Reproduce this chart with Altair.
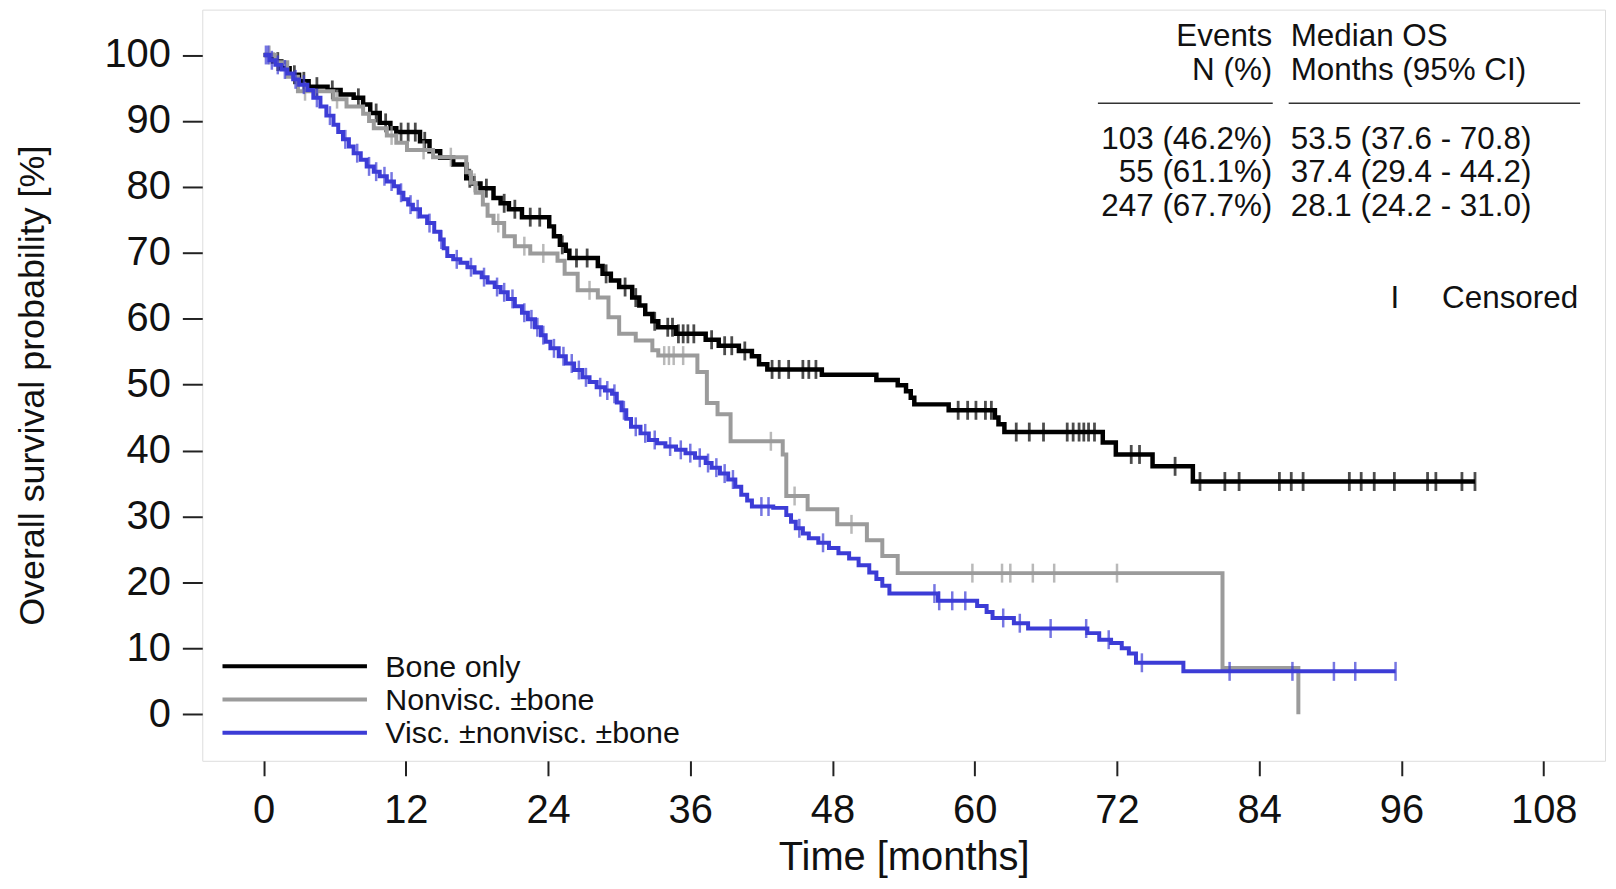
import altair as alt
import pandas as pd
import numpy as np

# ---------------- data ----------------
groups = ["Bone only", "Nonvisc. \u00b1bone", "Visc. \u00b1nonvisc. \u00b1bone"]
colors = ["#000000", "#9b9b9b", "#3c3cd6"]

bone_t = [0, 0.8, 1.5, 2.2, 3.0, 3.8, 5.4, 6.5, 7.6, 8.4, 9.0, 9.8, 10.7, 11.2, 13.2,
          14.0, 14.9, 16.0, 17.1, 17.7, 18.3, 19.4, 20.0, 20.7, 21.8, 24.1, 24.5, 25.0,
          25.5, 25.8, 28.2, 28.6, 29.3, 30.0, 31.1, 31.7, 32.2, 32.8, 33.3, 34.8, 37.3,
          38.4, 40.1, 41.2, 41.8, 42.5, 47.1, 51.7, 53.5, 54.2, 54.6, 54.9, 57.8, 61.7,
          62.0, 62.5, 70.8, 71.9, 75.0, 78.4, 102.2]
bone_s = [100, 99, 98, 97, 96, 95.2, 94.7, 94, 93.5, 92.5, 91.2, 89.7, 88.9, 88.3, 86.9,
          85.4, 84.4, 83.4, 81.3, 80.5, 79.8, 78.3, 77.5, 76.6, 75.4, 74.0, 72.5, 71.2,
          70.3, 69.2, 68.0, 66.8, 65.8, 64.8, 63.2, 62.0, 60.7, 59.6, 58.7, 57.7, 56.8,
          55.9, 55.1, 54.3, 53.1, 52.3, 51.5, 50.7, 49.9, 49.0, 48.0, 47.0, 46.1, 45.0,
          44.0, 42.8, 41.2, 39.4, 37.6, 35.3, 35.3]
bone_c = [1.2, 2.6, 3.4, 4.5, 5.8, 8.0, 9.5, 10.3, 11.6, 12.2, 12.8, 13.6, 17.4, 18.8,
          20.3, 21.2, 22.5, 23.3, 25.2, 26.4, 27.3, 28.9, 30.5, 31.4, 33.0, 34.1, 34.5,
          35.0, 35.4, 35.8, 36.3, 37.8, 38.9, 39.5, 40.6, 42.9, 43.5, 44.3, 45.5, 46.0,
          46.6, 58.6, 59.4, 60.1, 60.9, 61.4, 63.5, 64.6, 65.8, 67.8, 68.3, 68.8, 69.2,
          69.6, 70.1, 73.2, 73.9, 76.9, 79.0, 81.1, 82.3, 85.7, 86.7, 87.7, 91.6, 92.6,
          93.7, 95.4, 98.2, 98.9, 101.1, 102.2]

gray_t = [0, 1.0, 2.0, 2.9, 5.9, 7.0, 8.4, 8.9, 9.3, 10.4, 11.2, 12.1, 14.3, 17.1, 17.5,
          17.9, 18.5, 18.9, 19.4, 20.3, 21.2, 22.5, 24.8, 25.4, 26.5, 28.2, 29.1, 30.0,
          31.4, 32.8, 33.3, 36.6, 37.4, 38.3, 39.4, 43.8, 44.1, 45.9, 48.4, 50.9, 52.2,
          53.5, 80.9, 87.3]
gray_s = [100, 98.9, 96.7, 94.5, 93.3, 92.2, 91.1, 90.0, 88.9, 87.8, 86.7, 85.6, 84.5,
          82.2, 80.6, 79.1, 77.3, 75.6, 74.5, 72.5, 71.0, 69.9, 68.8, 66.8, 64.3, 63.2,
          60.2, 57.7, 56.7, 55.2, 54.4, 51.9, 47.2, 45.5, 41.4, 39.4, 33.1, 31.1, 28.8,
          26.4, 24.0, 21.4, 7.0, 0]
gray_c = [0.5, 3.5, 6.2, 10.8, 13.5, 15.8, 17.8, 19.8, 22.0, 23.6, 27.5, 33.8, 34.2,
          34.6, 35.4, 42.8, 44.8, 49.6, 59.8, 62.3, 63.0, 64.9, 66.7, 72.0]

visc_t = [0, 0.5, 1.0, 1.5, 2.0, 2.5, 3.0, 3.7, 4.2, 4.8, 5.3, 5.9, 6.3, 6.7, 7.2, 7.6,
          8.2, 8.7, 9.3, 9.8, 10.4, 11.0, 11.4, 11.8, 12.2, 12.6, 13.2, 13.8, 14.4, 14.9,
          15.2, 15.5, 16.0, 16.6, 17.2, 17.8, 18.4, 18.9, 19.5, 20.0, 20.6, 21.2, 21.8,
          22.3, 22.9, 23.4, 23.8, 24.2, 24.9, 25.5, 26.2, 26.9, 27.5, 28.1, 28.8, 29.4,
          29.8, 30.2, 30.6, 31.0, 31.8, 32.5, 33.2, 33.9, 34.8, 35.6, 36.4, 37.3, 37.8,
          38.5, 39.2, 39.8, 40.3, 40.8, 41.2, 43.0, 44.1, 44.5, 44.9, 45.5, 46.0, 46.8,
          47.7, 48.5, 49.4, 50.2, 51.1, 51.7, 52.2, 52.8, 56.9, 60.2, 61.0, 61.5, 63.3,
          64.5, 69.5, 70.5, 71.5, 72.4, 73.0, 73.6, 77.6, 95.5]
visc_s = [100, 99.2, 98.5, 97.8, 97.2, 96.3, 95.5, 94.7, 93.5, 92.2, 90.8, 89.4, 88.3,
          87.2, 86.1, 85.1, 84.1, 83.1, 82.3, 81.6, 80.8, 80.1, 79.1, 78.1, 77.3, 76.6,
          75.5, 74.5, 73.2, 72.0, 70.7, 69.5, 69.0, 68.5, 67.8, 67.0, 66.3, 65.5, 64.8,
          64.0, 63.0, 61.9, 60.9, 59.9, 58.7, 57.5, 56.5, 55.5, 54.3, 53.2, 52.2, 51.1,
          50.4, 49.6, 49.1, 48.6, 47.3, 46.1, 44.8, 43.6, 42.6, 41.6, 41.1, 40.6, 40.1,
          39.6, 38.9, 38.1, 37.4, 36.5, 35.6, 34.5, 33.3, 32.4, 31.5, 31.3, 30.2, 29.2,
          28.2, 27.4, 26.7, 26.0, 25.2, 24.4, 23.6, 22.6, 21.5, 20.5, 19.5, 18.3, 17.2,
          16.4, 15.5, 14.6, 13.8, 13.0, 12.3, 11.3, 10.8, 10.0, 9.2, 7.8, 6.5, 6.5]
visc_c = [0.2, 0.4, 0.7, 1.2, 1.8, 2.7, 3.4, 4.5, 5.6, 6.9, 7.9, 8.9, 9.5, 10.2, 10.8,
          11.6, 12.4, 13.0, 14.0, 15.0, 16.3, 17.5, 18.6, 19.7, 20.3, 21.0, 22.0, 22.6,
          23.1, 23.6, 24.5, 25.3, 26.0, 26.6, 27.2, 28.4, 29.0, 29.6, 30.4, 31.4, 32.2,
          33.0, 34.3, 35.2, 36.0, 36.8, 37.5, 38.2, 38.9, 39.6, 42.0, 42.6, 45.2, 47.2,
          56.6, 57.0, 58.1, 59.2, 62.4, 63.8, 66.4, 69.4, 71.3, 74.1, 81.5, 86.8, 90.3,
          92.1, 95.5]

header_events = ["Events", "N (%)"]
header_median = ["Median OS", "Months (95% CI)"]
events_txt = ["103 (46.2%)", "55 (61.1%)", "247 (67.7%)"]
median_txt = ["53.5 (37.6 - 70.8)", "37.4 (29.4 - 44.2)", "28.1 (24.2 - 31.0)"]
censor_label = "Censored"
x_ticks = list(range(0, 109, 12))
y_ticks = list(range(0, 101, 10))

# ---------------- helpers ----------------
FONT = "Liberation Sans, Arial, Helvetica, sans-serif"
TXT = "#111111"


def level_at(ts, ss, cs):
    ts = np.asarray(ts)
    return [ss[int(np.searchsorted(ts, c, side="right")) - 1] for c in cs]


x_enc = alt.X(
    "t:Q",
    scale=alt.Scale(domain=[-5.17, 113.17], nice=False, zero=False),
    axis=alt.Axis(values=x_ticks, tickSize=15, tickWidth=2, tickColor="#222",
                  labelFontSize=40, labelPadding=15, labelColor=TXT, labelFont=FONT,
                  domain=False, grid=False, title="Time [months]",
                  titleFont=FONT, titleFontSize=40, titleFontWeight="normal",
                  titleColor=TXT, titleX=704, titleY=109,
                  titleBaseline="alphabetic", titleAlign="center"),
)
y_enc = alt.Y(
    "s:Q",
    scale=alt.Scale(domain=[-7.07, 106.88], nice=False, zero=False),
    axis=alt.Axis(values=y_ticks, tickSize=20, tickWidth=2, tickColor="#222",
                  labelFontSize=40, labelPadding=12, labelColor=TXT, labelFont=FONT,
                  domain=False, grid=False, title="Overall survival probability [%]",
                  titleFont=FONT, titleFontSize=36, titleFontWeight="normal",
                  titleColor=TXT, titleX=-170.5, titleY=377, titleAngle=270,
                  titleBaseline="middle", titleAlign="center"),
)

series = [(bone_t, bone_s, bone_c, 4.5, 2.8),
          (gray_t, gray_s, gray_c, 4.0, 2.5),
          (visc_t, visc_s, visc_c, 4.0, 2.5)]

layers = []
for i, (ts, ss, cs, lw, tw) in enumerate(series):
    df_line = pd.DataFrame({"t": ts, "s": ss, "group": groups[i]})
    df_cens = pd.DataFrame({"t": cs, "s": level_at(ts, ss, cs), "group": groups[i]})
    layers.append(
        alt.Chart(df_line).mark_line(interpolate="step-after", strokeWidth=lw,
                                     color=colors[i], strokeCap="butt")
        .encode(x=x_enc, y=y_enc, order=alt.Order("t:Q"))
    )
    layers.append(
        alt.Chart(df_cens).mark_tick(orient="vertical", size=19, thickness=tw,
                                     color=colors[i])
        .encode(x=x_enc, y=y_enc)
    )

one = pd.DataFrame({"k": [0]})


def text_at(txt, x, y, align, size=31.5):
    return alt.Chart(one).mark_text(align=align, baseline="middle", font=FONT,
                                    fontSize=size, color=TXT).encode(
        x=alt.value(x), y=alt.value(y), text=alt.value(txt))


def rule_at(x1, x2, y, color, width):
    return alt.Chart(one).mark_rule(color=color, strokeWidth=width).encode(
        x=alt.value(x1), x2=alt.value(x2), y=alt.value(y))


# table at the top right
for j, h in enumerate(header_events):
    layers.append(text_at(h, 1074, 28 + 34 * j, "right"))
for j, h in enumerate(header_median):
    layers.append(text_at(h, 1092.5, 28 + 34 * j, "left"))
layers.append(rule_at(899, 1074.5, 94, "#333333", 1.5))
layers.append(rule_at(1090.5, 1383, 94, "#333333", 1.5))
for j in range(3):
    layers.append(text_at(events_txt[j], 1074, 131 + 33.5 * j, "right"))
    layers.append(text_at(median_txt[j], 1092.5, 131 + 33.5 * j, "left"))
layers.append(text_at("I", 1197, 290, "center"))
layers.append(text_at(censor_label, 1244.5, 290, "left"))

# legend at the bottom left
for j in range(3):
    ly = 659 + 33.4 * j
    layers.append(rule_at(20.3, 165.3, ly, colors[j], 4))
    layers.append(text_at(groups[j], 183.7, ly + 1.5, "left", size=30.5))

chart = (
    alt.layer(*layers)
    .properties(width=1408, height=754,
                autosize=alt.AutoSizeParams(type="none"),
                padding={"left": 195, "top": 0, "right": 3, "bottom": 118})
    .configure_view(stroke="#222222", strokeWidth=2)
    .configure(background="white")
)

chart.save("out.html", embed_options={"renderer": "svg", "actions": False})
